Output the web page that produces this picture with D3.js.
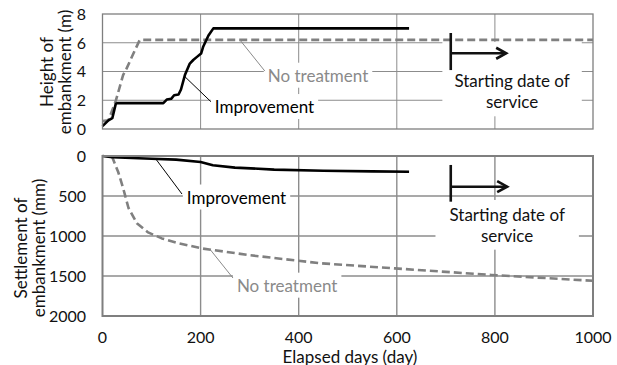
<!DOCTYPE html>
<html>
<head>
<meta charset="utf-8">
<script src="https://cdn.jsdelivr.net/npm/d3@7"></script>
<style>
  html, body { margin: 0; padding: 0; background: #fff; }
  svg { display: block; font-family: Lato, "Noto Sans", sans-serif; }
</style>
</head>
<body>
<svg id="chart" width="617" height="365"></svg>
<script>
// ---- Data ----------------------------------------------------------------
// Embankment height (m) against elapsed days
const heightImprovementDays   = [0, 12, 20, 27, 30, 124, 131, 140, 146, 155, 160, 168, 178, 185, 192, 201, 205, 216, 226, 625];
const heightImprovementValues = [0.2, 0.6, 0.75, 1.75, 1.8, 1.8, 2.05, 2.1, 2.35, 2.4, 2.75, 3.75, 4.55, 4.8, 5.0, 5.25, 5.7, 6.5, 7.0, 7.0];
const heightNoTreatmentDays   = [0, 12, 27, 42, 49, 63, 76, 1000];
const heightNoTreatmentValues = [0.55, 0.6, 1.95, 3.75, 4.2, 5.25, 6.2, 6.2];

// Embankment settlement (mm) against elapsed days
const settleImprovementDays   = [0, 20, 100, 150, 200, 225, 270, 350, 450, 550, 625];
const settleImprovementValues = [0, 15, 35, 45, 75, 115, 145, 170, 185, 192, 196];
const settleNoTreatmentDays   = [19, 32, 42, 53, 70, 93, 121, 155, 202, 300, 443, 596, 793, 1000];
const settleNoTreatmentValues = [0, 200, 400, 650, 840, 955, 1030, 1090, 1155, 1240, 1340, 1405, 1487, 1560];

// Axis ticks
const dayTicks    = [0, 200, 400, 600, 800, 1000];
const heightTicks = [0, 2, 4, 6, 8];
const settleTicks = [0, 500, 1000, 1500, 2000];

// Day on which service starts
const serviceStartDay = 710;

// ---- Layout ----------------------------------------------------------------
const svg = d3.select("#chart");
const FONT = 17;
const TICK_FONT = 16;
const GRID = "#8c8c8c";
const FRAME = "#7f7f7f";
const GRAY = "#808080";
const GRAY_TEXT = "#8a8a8a";

const x = d3.scaleLinear().domain([0, 1000]).range([102.5, 593]);
const yH = d3.scaleLinear().domain([0, 8]).range([129, 14]);
const yS = d3.scaleLinear().domain([0, 2000]).range([156, 316]);

function panel(y, yTicks, frameWidth, gridWidth) {
  const g = svg.append("g");
  const [y0, y1] = [d3.min(y.range()), d3.max(y.range())];
  const [x0, x1] = x.range();
  const grid = g.append("g");
  grid.selectAll("line.h").data(yTicks.slice(1, -1)).join("line")
    .attr("x1", x0).attr("x2", x1)
    .attr("y1", d => y(d)).attr("y2", d => y(d))
    .attr("stroke", GRID).attr("stroke-width", gridWidth);
  grid.selectAll("line.v").data(dayTicks.slice(1, -1)).join("line")
    .attr("y1", y0).attr("y2", y1)
    .attr("x1", d => x(d)).attr("x2", d => x(d))
    .attr("stroke", GRID).attr("stroke-width", gridWidth);
  // tick labels
  g.append("g").selectAll("text").data(yTicks).join("text")
    .attr("x", 86).attr("y", d => y(d))
    .attr("dy", "0.36em")
    .attr("text-anchor", "end")
    .attr("font-size", TICK_FONT).attr("fill", "#111")
    .text(d => d);
  const boxes = g.append("g");
  const lines = g.append("g");
  const notes = g.append("g");
  g.append("rect")
    .attr("x", x0).attr("y", y0).attr("width", x1 - x0).attr("height", y1 - y0)
    .attr("fill", "none").attr("stroke", FRAME).attr("stroke-width", frameWidth);
  return { g, boxes, lines, notes };
}

const heightPanel = panel(yH, heightTicks, 1.3, 1);
const settlePanel = panel(yS, settleTicks, 2, 1.4);

// x tick labels
svg.append("g").selectAll("text").data(dayTicks).join("text")
  .attr("x", d => x(d)).attr("y", 337).attr("dy", "0.36em")
  .attr("text-anchor", "middle").attr("font-size", TICK_FONT).attr("fill", "#111")
  .text(d => d);

svg.append("text").attr("x", 350).attr("y", 362.5)
  .attr("text-anchor", "middle").attr("font-size", FONT).attr("fill", "#111")
  .text("Elapsed days (day)");

// y-axis titles (two lines each)
function yTitle(lines, cy, xs) {
  lines.forEach((t, i) => {
    svg.append("text")
      .attr("transform", `translate(${xs[i]},${cy}) rotate(-90)`)
      .attr("text-anchor", "middle").attr("font-size", FONT).attr("fill", "#111")
      .text(t);
  });
}
yTitle(["Height of", "embankment (m)"], 72, [53, 71]);
yTitle(["Settlement of", "embankment (mm)"], 248, [27, 45]);

// ---- Data lines ------------------------------------------------------------
function series(layer, y, days, vals, color, dash) {
  const pts = days.map((d, i) => [d, vals[i]]);
  layer.lines.append("path")
    .attr("d", d3.line().x(d => x(d[0])).y(d => y(d[1]))(pts))
    .attr("fill", "none").attr("stroke", color).attr("stroke-width", 2.6)
    .attr("stroke-linejoin", "round")
    .attr("stroke-dasharray", dash || null);
}
series(heightPanel, yH, heightNoTreatmentDays, heightNoTreatmentValues, GRAY, "8,4");
series(heightPanel, yH, heightImprovementDays, heightImprovementValues, "#000");
series(settlePanel, yS, settleNoTreatmentDays, settleNoTreatmentValues, GRAY, "8,4");
series(settlePanel, yS, settleImprovementDays, settleImprovementValues, "#000");

// ---- Callouts --------------------------------------------------------------
// label: text with a white backing box, plus a leader line to the curve
function callout(layer, y, o) {
  const t = layer.notes.append("text")
    .attr("x", x(o.tx)).attr("y", y(o.ty))
    .attr("font-size", FONT).attr("fill", o.color)
    .text(o.text);
  const b = t.node().getBBox();
  layer.boxes.append("rect")
    .attr("x", b.x - 4).attr("y", b.y - 2)
    .attr("width", b.width + 8).attr("height", b.height + 4)
    .attr("fill", "#fff");
  layer.notes.append("line")
    .attr("x1", x(o.from[0])).attr("y1", y(o.from[1]))
    .attr("x2", x(o.to[0])).attr("y2", y(o.to[1]))
    .attr("stroke", o.color).attr("stroke-width", 1);
}
callout(heightPanel, yH, { text: "No treatment", color: GRAY_TEXT, tx: 337, ty: 3.29, from: [280, 6.2], to: [331, 4.03] });
callout(heightPanel, yH, { text: "Improvement", color: "#000", tx: 229, ty: 1.11, from: [168, 3.64], to: [221, 1.9] });
callout(settlePanel, yS, { text: "Improvement", color: "#000", tx: 172, ty: 594, from: [109, 40], to: [162, 475] });
callout(settlePanel, yS, { text: "No treatment", color: GRAY_TEXT, tx: 274, ty: 1696, from: [219, 1165], to: [266, 1525] });

// service start marker: bar, arrow and two-line caption
function serviceMarker(layer, y, o) {
  const cx = x(o.textDay);
  const lines = ["Starting date of", "service"];
  const texts = lines.map((s, i) => layer.notes.append("text")
    .attr("x", cx).attr("y", y(o.baselines[i]))
    .attr("text-anchor", "middle").attr("font-size", FONT).attr("fill", "#111")
    .text(s));
  const b0 = texts[0].node().getBBox();
  const b1 = texts[1].node().getBBox();
  const bx = b0.x - o.padX, bw = b0.width + 2 * o.padX;
  const by = o.boxTop !== undefined ? y(o.boxTop) : b0.y - 4;
  layer.boxes.append("rect")
    .attr("x", bx).attr("y", by).attr("width", bw)
    .attr("height", b1.y + b1.height + 4 - by).attr("fill", "#fff");
  const xs = x(serviceStartDay), xe = x(o.arrowEnd), ya = y(o.arrowAt);
  const a = layer.notes.append("g").attr("stroke", "#111").attr("stroke-width", 2.6).attr("fill", "none");
  a.append("line").attr("x1", xs).attr("x2", xs).attr("y1", y(o.barFrom)).attr("y2", y(o.barTo));
  a.append("line").attr("x1", xs).attr("x2", xe).attr("y1", ya).attr("y2", ya);
  a.append("polyline").attr("points", `${xe - 10},${ya - 5.5} ${xe},${ya} ${xe - 10},${ya + 5.5}`);
}
serviceMarker(heightPanel, yH, { textDay: 835, baselines: [2.92, 1.44], padX: 12, boxTop: 6.05,
  arrowEnd: 823, arrowAt: 5.27, barFrom: 6.68, barTo: 4.1 });
serviceMarker(settlePanel, yS, { textDay: 825, baselines: [812, 1071], padX: 14,
  arrowEnd: 825, arrowAt: 384, barFrom: 112, barTo: 571 });
</script>
</body>
</html>
